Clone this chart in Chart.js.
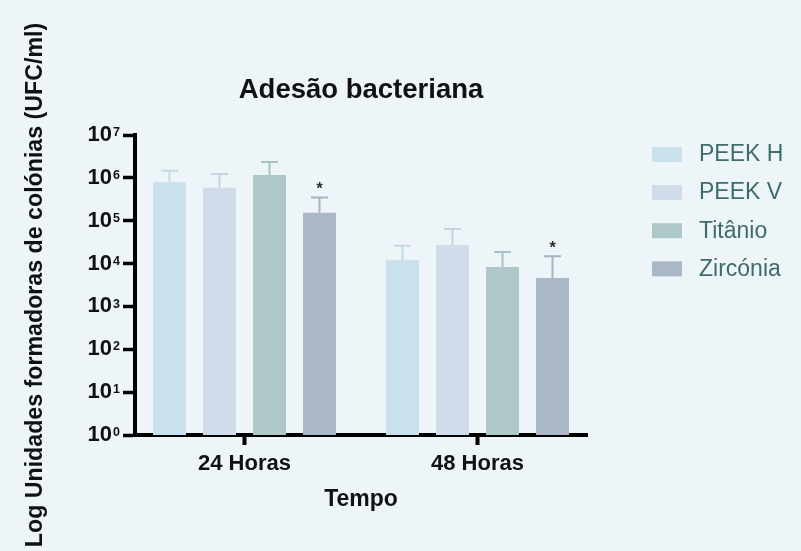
<!DOCTYPE html>
<html>
<head>
<meta charset="utf-8">
<script src="https://cdn.jsdelivr.net/npm/chart.js@4.4.1/dist/chart.umd.min.js"></script>
<style>
  html, body { margin: 0; padding: 0; background: #edf5f9; }
  canvas { display: block; }
</style>
</head>
<body>
<canvas id="c" width="801" height="551"></canvas>
<script>
// ---- data ----
const categories = ['24 Horas', '48 Horas'];
const seriesNames = ['PEEK H', 'PEEK V', 'Titânio', 'Zircónia'];
const peekH      = [7.9e5, 1.2e4];
const peekHSd    = [6.8e5, 1.4e4];
const peekV      = [5.9e5, 2.7e4];
const peekVSd    = [6.4e5, 3.7e4];
const titanio    = [1.17e6, 8.3e3];
const titanioSd  = [1.17e6, 1.03e4];
const zirconia   = [1.54e5, 4.6e3];
const zirconiaSd = [1.96e5, 1.02e4];
const zirconiaSig = [true, true];
const yTickBase = '10';
const yTickExponents = ['0', '1', '2', '3', '4', '5', '6', '7'];

const FONT = "'Liberation Sans', Arial, sans-serif";
const barColors = ['#c8e1ec', '#d0dcea', '#aec7c9', '#aab7c7'];
const errColors = ['#c2dbe6', '#c6d3e2', '#a8c2c4', '#a6b3c4'];

function toPoints(arr) { return arr.map((v, i) => ({ x: i, y: v })); }

const values = [peekH, peekV, titanio, zirconia];
const sds = [peekHSd, peekVSd, titanioSd, zirconiaSd];
const sigs = [null, null, null, zirconiaSig];

const datasets = seriesNames.map((name, k) => ({
  label: name,
  data: toPoints(values[k]),
  sd: sds[k],
  sig: sigs[k],
  backgroundColor: barColors[k],
  errColor: errColors[k],
  borderWidth: 0,
  categoryPercentage: 200 / 233,
  barPercentage: 0.66
}));

const errorBars = {
  id: 'errorBars',
  afterDatasetsDraw(chart) {
    const ctx = chart.ctx;
    const ys = chart.scales.y;
    chart.data.datasets.forEach((ds, di) => {
      const meta = chart.getDatasetMeta(di);
      meta.data.forEach((el, i) => {
        const top = ys.getPixelForValue(ds.data[i].y + ds.sd[i]);
        ctx.save();
        ctx.strokeStyle = ds.errColor;
        ctx.lineWidth = 2;
        ctx.beginPath();
        ctx.moveTo(el.x, el.y);
        ctx.lineTo(el.x, top);
        ctx.moveTo(el.x - 8.5, top);
        ctx.lineTo(el.x + 8.5, top);
        ctx.stroke();
        if (ds.sig && ds.sig[i]) {
          ctx.fillStyle = '#2b2b2b';
          ctx.font = 'bold 16px ' + FONT;
          ctx.textAlign = 'center';
          ctx.textBaseline = 'middle';
          ctx.fillText('*', el.x, top - 8);
        }
        ctx.restore();
      });
    });
  }
};

// superscript exponents next to the "10" tick labels
const tickExponents = {
  id: 'tickExponents',
  afterDraw(chart) {
    const ctx = chart.ctx;
    const ys = chart.scales.y;
    const a = chart.chartArea;
    ctx.save();
    ctx.fillStyle = '#111';
    ctx.font = 'bold 12.5px ' + FONT;
    ctx.textAlign = 'left';
    ctx.textBaseline = 'alphabetic';
    ys.ticks.forEach((t, i) => {
      const y = ys.getPixelForValue(t.value);
      const capTop = y - 0.358 * 22;
      ctx.fillText(yTickExponents[i], a.left - 22, capTop + 9);
    });
    ctx.restore();
  }
};

const sideLegend = {
  id: 'sideLegend',
  afterDraw(chart) {
    const ctx = chart.ctx;
    const a = chart.chartArea;
    const x0 = a.right + 65;
    const y0 = a.top + 12;
    ctx.save();
    chart.data.datasets.forEach((ds, i) => {
      const y = y0 + i * 38.1;
      ctx.fillStyle = ds.backgroundColor;
      ctx.fillRect(x0, y, 30, 15);
      ctx.fillStyle = '#3d6c6b';
      ctx.font = '23px ' + FONT;
      ctx.textAlign = 'left';
      ctx.textBaseline = 'middle';
      ctx.fillText(ds.label, x0 + 47, y + 8);
    });
    ctx.restore();
  }
};

new Chart(document.getElementById('c'), {
  type: 'bar',
  data: { datasets },
  plugins: [errorBars, tickExponents, sideLegend],
  options: {
    responsive: false,
    animation: false,
    devicePixelRatio: 1,
    layout: { padding: { left: 0, right: 214, top: 0, bottom: 0 } },
    plugins: {
      legend: { display: false },
      tooltip: { enabled: false },
      title: {
        display: true,
        text: 'Adesão bacteriana',
        fullSize: false,
        color: '#111',
        font: { family: FONT, size: 27.5, weight: 'bold' },
        padding: { top: 73.5, bottom: 28.5 }
      }
    },
    scales: {
      x: {
        type: 'linear',
        min: -0.47,
        max: 1.47,
        offset: false,
        afterBuildTicks(scale) { scale.ticks = categories.map((_, i) => ({ value: i })); },
        afterFit(scale) { scale.height = 116; },
        ticks: {
          autoSkip: false,
          maxRotation: 0,
          padding: 6,
          color: '#111',
          font: { family: FONT, size: 22, weight: 'bold' },
          callback: (v) => categories[v]
        },
        grid: { offset: false, drawOnChartArea: false, drawTicks: true, tickLength: 10, tickWidth: 4, tickColor: '#000' },
        border: { display: true, color: '#000', width: 4 },
        title: {
          display: true,
          text: 'Tempo',
          color: '#111',
          font: { family: FONT, size: 23, weight: 'bold' },
          padding: { top: 0, bottom: 38 }
        }
      },
      y: {
        type: 'logarithmic',
        min: 1,
        max: 1e7,
        afterBuildTicks(scale) { scale.ticks = yTickExponents.map((e) => ({ value: Math.pow(10, Number(e)), major: true })); },
        afterFit(scale) { scale.width = 135; },
        ticks: {
          autoSkip: false,
          padding: 11,
          color: '#111',
          font: { family: FONT, size: 22, weight: 'bold' },
          callback: () => yTickBase
        },
        grid: { drawOnChartArea: false, drawTicks: true, tickLength: 12, tickWidth: 3.5, tickColor: '#000' },
        border: { display: true, color: '#000', width: 4 },
        title: {
          display: true,
          text: 'Log Unidades formadoras de colónias (UFC/ml)',
          color: '#111',
          font: { family: FONT, size: 23.2, weight: 'bold' },
          padding: { top: 21.5, bottom: 0 }
        }
      }
    }
  }
});
</script>
</body>
</html>
